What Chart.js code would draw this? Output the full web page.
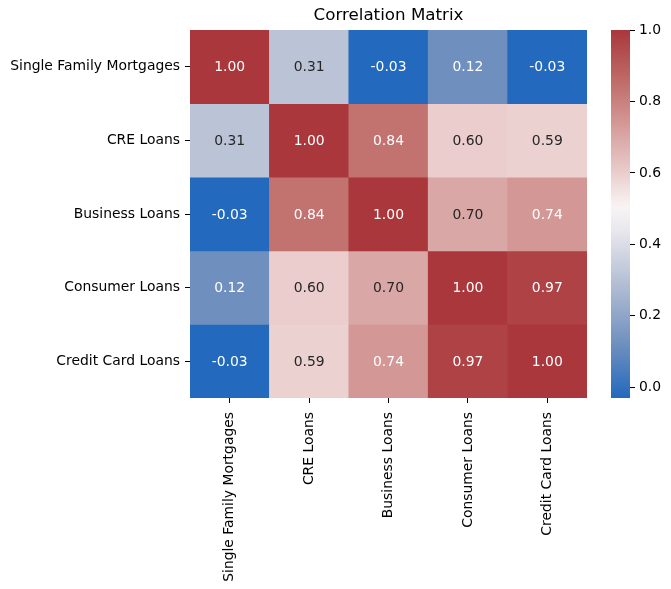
<!DOCTYPE html>
<html>
<head>
<meta charset="utf-8">
<script src="https://cdn.jsdelivr.net/npm/chart.js@4.4.1/dist/chart.umd.min.js"></script>
<style>
  body { margin: 0; background: #fff; }
  #heat { position: absolute; left: 0; top: 0; }
  #cbar { position: absolute; left: 600px; top: 0; }
</style>
</head>
<body>
<canvas id="heat" width="600" height="589"></canvas>
<canvas id="cbar" width="71" height="589"></canvas>
<script>
var categories = ['Single Family Mortgages', 'CRE Loans', 'Business Loans', 'Consumer Loans', 'Credit Card Loans'];

// one row of the correlation matrix per array
var rowMortgages = [1.00, 0.31, -0.03, 0.12, -0.03];
var rowCRE = [0.31, 1.00, 0.84, 0.60, 0.59];
var rowBusiness = [-0.03, 0.84, 1.00, 0.70, 0.74];
var rowConsumer = [0.12, 0.60, 0.70, 1.00, 0.97];
var rowCreditCard = [-0.03, 0.59, 0.74, 0.97, 1.00];
var rows = [rowMortgages, rowCRE, rowBusiness, rowConsumer, rowCreditCard];

var colorbarTicks = [0.0, 0.2, 0.4, 0.6, 0.8, 1.0];

var vmin = Math.min.apply(null, rows.map(function(r) { return Math.min.apply(null, r); }));
var vmax = 1.0;

// rough copy of seaborn's "vlag" colormap
var cmapStops = [
  [0.00, [35, 105, 189]],
  [0.144, [110, 143, 190]],
  [0.33, [187, 196, 215]],
  [0.45, [230, 230, 236]],
  [0.52, [248, 245, 244]],
  [0.61, [234, 206, 205]],
  [0.71, [217, 167, 165]],
  [0.75, [211, 150, 148]],
  [0.845, [194, 114, 111]],
  [1.00, [169, 55, 59]]
];

function cmapRGB(t) {
  t = Math.max(0, Math.min(1, t));
  for (var i = 1; i < cmapStops.length; i++) {
    if (t <= cmapStops[i][0]) {
      var a = cmapStops[i - 1], b = cmapStops[i];
      var f = (t - a[0]) / (b[0] - a[0]);
      return [0, 1, 2].map(function(k) { return Math.round(a[1][k] + f * (b[1][k] - a[1][k])); });
    }
  }
  return cmapStops[cmapStops.length - 1][1];
}

function colorFor(v) {
  var c = cmapRGB((v - vmin) / (vmax - vmin));
  return 'rgb(' + c[0] + ',' + c[1] + ',' + c[2] + ')';
}

function textColorFor(v) {
  var c = cmapRGB((v - vmin) / (vmax - vmin)).map(function(x) {
    x = x / 255;
    return x <= 0.03928 ? x / 12.92 : Math.pow((x + 0.055) / 1.055, 2.4);
  });
  var lum = 0.2126 * c[0] + 0.7152 * c[1] + 0.0722 * c[2];
  return lum > 0.408 ? '#262626' : '#ffffff';
}

var FONT = '"DejaVu Sans", sans-serif';

var annotate = {
  id: 'annotate',
  afterDatasetsDraw: function(chart) {
    var ctx = chart.ctx;
    ctx.save();
    ctx.font = '13.9px ' + FONT;
    ctx.textAlign = 'center';
    ctx.textBaseline = 'middle';
    chart.data.datasets.forEach(function(ds, r) {
      chart.getDatasetMeta(r).data.forEach(function(bar, c) {
        var v = rows[r][c];
        ctx.fillStyle = textColorFor(v);
        ctx.fillText(v.toFixed(2), bar.x, (bar.y + bar.base) / 2 + 1);
      });
    });
    ctx.restore();
  }
};

var datasets = rows.map(function(row, r) {
  return {
    label: categories[r],
    data: row.map(function() { return [r, r + 1]; }),
    backgroundColor: row.map(colorFor),
    borderWidth: 0,
    barPercentage: 1,
    categoryPercentage: 1,
    grouped: false
  };
});

new Chart(document.getElementById('heat'), {
  type: 'bar',
  data: { labels: categories, datasets: datasets },
  plugins: [annotate],
  options: {
    responsive: false,
    devicePixelRatio: 1,
    animation: false,
    layout: { padding: { left: 0, right: 13, top: 0, bottom: 0 } },
    plugins: {
      legend: { display: false },
      tooltip: { enabled: false },
      title: {
        display: true,
        text: 'Correlation Matrix',
        fullSize: false,
        color: '#000',
        font: { family: FONT, size: 16.7, weight: 'normal' },
        padding: { top: 6, bottom: 4 }
      }
    },
    scales: {
      x: {
        type: 'category',
        grid: { offset: false, drawOnChartArea: false, drawTicks: true, tickLength: 5, tickColor: '#000' },
        border: { display: false },
        ticks: { color: '#000', font: { family: FONT, size: 13.9 }, minRotation: 90, maxRotation: 90, padding: 9, autoSkip: false },
        afterFit: function(scale) { scale.height = 191; }
      },
      y: {
        type: 'linear',
        min: 0,
        max: 5,
        reverse: true,
        afterBuildTicks: function(scale) {
          scale.ticks = categories.map(function(_, i) { return { value: i + 0.5 }; });
        },
        grid: { drawOnChartArea: false, drawTicks: true, tickLength: 5, tickColor: '#000' },
        border: { display: false },
        ticks: {
          color: '#000',
          font: { family: FONT, size: 13.9 },
          padding: 5,
          autoSkip: false,
          callback: function(value) { return categories[Math.floor(value)]; }
        },
        afterFit: function(scale) { scale.width = 190; }
      }
    }
  }
});

function barGradient(context) {
  var chart = context.chart;
  if (!chart.chartArea) return 'rgba(0,0,0,0)';
  var y = chart.scales.y;
  var g = chart.ctx.createLinearGradient(0, y.getPixelForValue(vmin), 0, y.getPixelForValue(vmax));
  for (var i = 0; i <= 60; i++) {
    var c = cmapRGB(i / 60);
    g.addColorStop(i / 60, 'rgb(' + c[0] + ',' + c[1] + ',' + c[2] + ')');
  }
  return g;
}

new Chart(document.getElementById('cbar'), {
  type: 'bar',
  data: {
    labels: [''],
    datasets: [{
      data: [[vmin, vmax]],
      backgroundColor: barGradient,
      borderWidth: 0,
      barPercentage: 1,
      categoryPercentage: 1
    }]
  },
  options: {
    responsive: false,
    devicePixelRatio: 1,
    animation: false,
    layout: { padding: { left: 11, right: 0, top: 30, bottom: 191 } },
    plugins: { legend: { display: false }, tooltip: { enabled: false } },
    scales: {
      x: { display: false },
      y: {
        position: 'right',
        min: vmin,
        max: vmax,
        afterBuildTicks: function(scale) {
          scale.ticks = colorbarTicks.map(function(v) { return { value: v }; });
        },
        grid: { drawOnChartArea: false, drawTicks: true, tickLength: 5, tickColor: '#000' },
        border: { display: false },
        ticks: {
          color: '#000',
          font: { family: FONT, size: 13.9 },
          padding: 4,
          callback: function(value) { return Number(value).toFixed(1); }
        },
        afterFit: function(scale) { scale.width = 41; }
      }
    }
  }
});
</script>
</body>
</html>
